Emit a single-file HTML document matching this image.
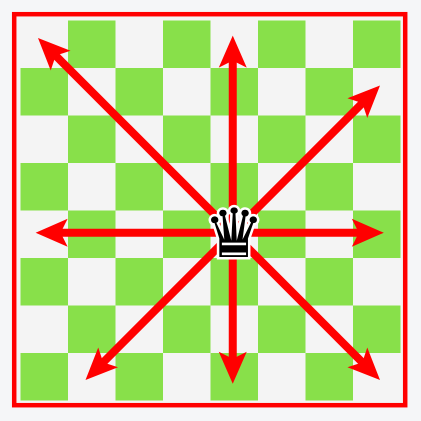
<!DOCTYPE html>
<html><head><meta charset="utf-8"><style>
html,body{margin:0;padding:0;background:#f4f5f7;}
svg{display:block;}
</style></head><body>
<svg width="421" height="421" viewBox="0 0 421 421">
<rect x="0" y="0" width="421" height="421" fill="#f5f6f8"/>
<rect x="14.2" y="14.2" width="391" height="391" fill="#f4f4f4" stroke="#ff0000" stroke-width="4.5"/>
<g id="board"></g>
<g id="arrows"></g>
<text x="234" y="257" text-anchor="middle" font-family="DejaVu Sans, sans-serif" font-size="68" fill="#000" stroke="#fff" stroke-width="5" paint-order="stroke">♛</text>
</svg>
<script>
const files = [0,1,2,3,4,5,6,7];
const ranks = [0,1,2,3,4,5,6,7];
const queenPos = [4,4];
const arrowDirs = [[-1,-1],[0,-1],[1,-1],[-1,0],[1,0],[-1,1],[0,1],[1,1]];
const arrowLens = [4.1,4.15,3.1,4.15,3.18,3.1,3.18,3.1];
const NS='http://www.w3.org/2000/svg';
const x0=20.5, sq=47.5;
const sx=c=>x0+c*sq, sy=r=>x0+r*sq;
const board=document.getElementById('board');
ranks.forEach(r=>files.forEach(c=>{
  if((r+c)%2===1){
    const e=document.createElementNS(NS,'rect');
    e.setAttribute('x',sx(c));e.setAttribute('y',sy(r));
    e.setAttribute('width',sq);e.setAttribute('height',sq);
    e.setAttribute('fill','#88e04a');
    
    
    board.appendChild(e);
  }
}));
const cx=sx(queenPos[0])+sq/2-1.5, cy=sy(queenPos[1])+sq/2-1.5;
const ag=document.getElementById('arrows');
arrowDirs.forEach((d,i)=>{
  const L=arrowLens[i]*sq;
  const n=Math.hypot(d[0],d[1]);const ux=d[0]/n,uy=d[1]/n;
  const tx=cx+d[0]*L, ty=cy+d[1]*L;
  const hl=32, hw=14;
  const bx=tx-ux*hl, by=ty-uy*hl;
  const l=document.createElementNS(NS,'line');
  l.setAttribute('x1',cx);l.setAttribute('y1',cy);
  l.setAttribute('x2',bx+ux*14);l.setAttribute('y2',by+uy*14);
  l.setAttribute('stroke','#ff0000');l.setAttribute('stroke-width','8');
  
  
  ag.appendChild(l);
  const p=document.createElementNS(NS,'polygon');
  p.setAttribute('points',`${tx},${ty} ${bx-uy*hw},${by+ux*hw} ${bx+ux*7},${by+uy*7} ${bx+uy*hw},${by-ux*hw}`);
  p.setAttribute('fill','#ff0000');
  
  
  ag.appendChild(p);
});
</script>
</body></html>
